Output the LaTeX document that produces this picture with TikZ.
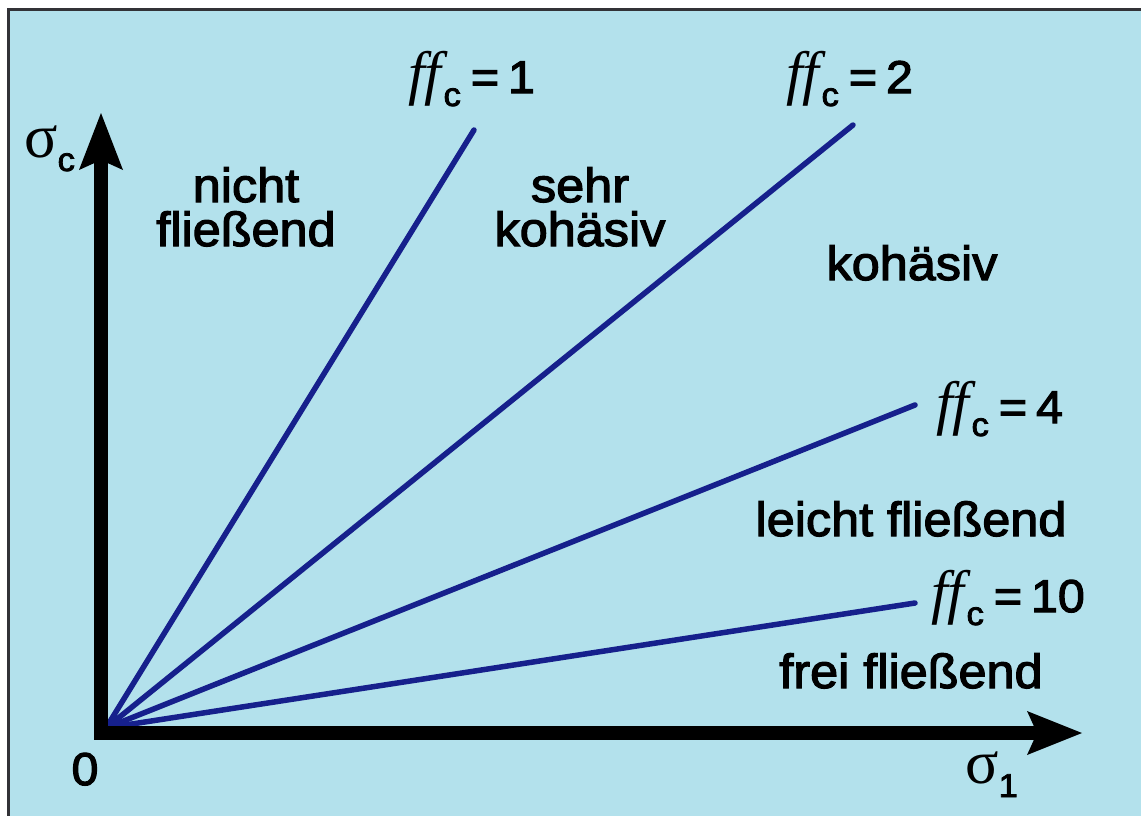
\documentclass[tikz,border=0pt]{standalone}
\usepackage{fontspec}
\setmainfont{Liberation Sans}[FakeStretch=1.05,FakeBold=2.5]
\newfontfamily\sigfont{Liberation Serif}
\newfontfamily\fffont{Liberation Serif Italic}
\definecolor{bgblue}{RGB}{179,225,236}
\definecolor{frame}{RGB}{50,50,55}
\definecolor{lineblue}{RGB}{22,32,140}
\newcommand{\ffc}[1]{{\fontsize{60}{62}\selectfont\fffont ff}\kern2pt\raisebox{-13pt}{\fontsize{33}{35}\selectfont c}\kern10pt{\fontsize{46}{48}\selectfont =\kern9pt#1}}
\tikzset{
  region/.style={font=\fontsize{48}{44}\selectfont, inner sep=0pt, align=center, anchor=base},
  eqlabel/.style={inner sep=0pt, anchor=base west},
  ffline/.style={draw=lineblue, line width=5.5pt, line cap=round},
  axishead/.style={fill=black}
}
\begin{document}
\begin{tikzpicture}[x=1pt,y=-1pt]
\useasboundingbox (0,0) rectangle (1141,816);
\fill[white] (0,0) rectangle (1141,816);
\fill[bgblue] (8,10) rectangle (1141,816);
\draw[frame, line width=3pt] (8,816) -- (8,10) -- (1141,10);
% lines
\coordinate (O) at (106,728);
\coordinate (e1) at (474,130);
\coordinate (e2) at (853,125);
\coordinate (e4) at (915,405);
\coordinate (e10) at (915,603);
\draw[ffline] (O) -- (e1);
\draw[ffline] (O) -- (e2);
\draw[ffline] (O) -- (e4);
\draw[ffline] (O) -- (e10);
% axes
\coordinate (ytip) at (101,113);
\coordinate (xtip) at (1082,733);
\fill[black] (94,740) rectangle (108,160);
\fill[black] (94,726) rectangle (1040,740);
\fill[axishead] (ytip) -- (123,170) -- (101,160) -- (79,170) -- cycle;
\fill[axishead] (xtip) -- (1027,755) -- (1037,733) -- (1027,711) -- cycle;
% axis labels
\node[inner sep=0pt, anchor=base west] (sc) at (24,157) {{\fontsize{62}{64}\selectfont\sigfont σ}\raisebox{-14pt}{\fontsize{33}{35}\selectfont c}};
\node[inner sep=0pt, anchor=base west] (s1) at (965,783) {{\fontsize{62}{64}\selectfont\sigfont σ}\raisebox{-14pt}{\fontsize{33}{35}\selectfont 1}};
\node[inner sep=0pt, anchor=base, font=\fontsize{46}{48}\selectfont] (zero) at (85,785) {0};
% equation labels
\node[eqlabel] (l1) at (408,93) {\ffc{1}};
\node[eqlabel] (l2) at (786,93) {\ffc{2}};
\node[eqlabel] (l4) at (936,423) {\ffc{4}};
\node[eqlabel] (l10) at (931,612) {\ffc{10}};
% regions
\node[region] (nf) at (246,246) {nicht\\fließend};
\node[region] (sk) at (580,246) {sehr\\kohäsiv};
\node[region] (k) at (912,280) {kohäsiv};
\node[region] (lf) at (911,536) {leicht fließend};
\node[region] (ff) at (911,688) {frei fließend};
\end{tikzpicture}
\end{document}
